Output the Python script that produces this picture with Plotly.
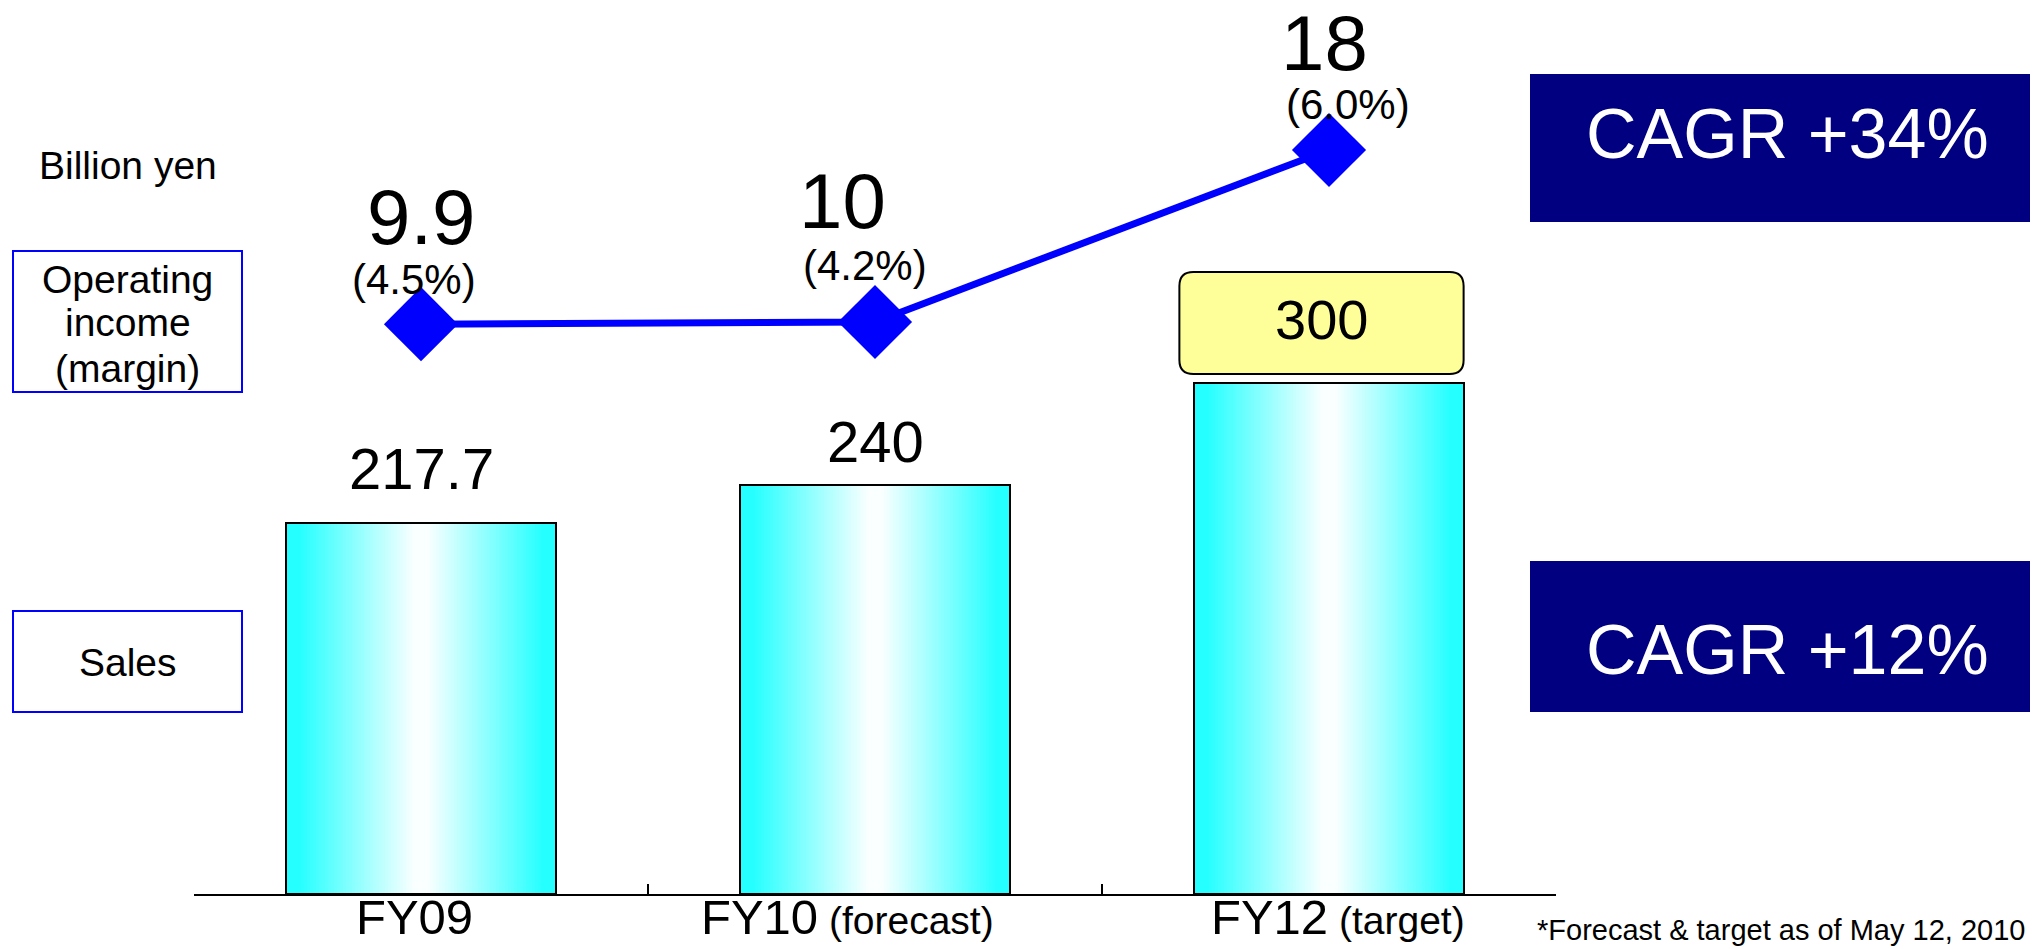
import plotly.graph_objects as go

# ---------------- data ----------------
categories = ["FY09", "FY10", "FY12"]
tick_main = ["FY09", "FY10", "FY12"]
tick_note = ["", "(forecast)", "(target)"]
sales = [217.7, 240, 300]
sales_labels = ["217.7", "240", "300"]
op_income = [9.9, 10, 18]
op_income_labels = ["9.9", "10", "18"]
op_margin_labels = ["(4.5%)", "(4.2%)", "(6.0%)"]
cagr_labels = ["CAGR +34%", "CAGR +12%"]
unit_label = "Billion yen"
series_labels = [["Operating", "income", "(margin)"], ["Sales"]]
footnote = "*Forecast & target as of May 12, 2010"

# ---------------- layout helpers ----------------
W, H = 2037, 949
PLOT_BOTTOM = 894          # pixel row of the x axis line
X0, X1 = 194, 1556         # pixel extent of the x axis
Y_PX_PER_UNIT = 1.7033     # sales axis scale
Y2_PX_PER_UNIT = 21.5      # operating income axis scale
Y2_ZERO_PX = 537

FONT = "Liberation Sans, Arial, sans-serif"
CYAN = (38, 255, 255)
WHITE = (250, 255, 255)
NAVY = "#000080"
BLUE = "#0000FF"


def pxx(x):
    return x / W


def pxy(y):
    return (PLOT_BOTTOM - y) / PLOT_BOTTOM


def grad(t):
    d = abs(t - 0.5) * 2
    s = min(max((d - 0.05) / 0.85, 0.0), 1.0)
    c = [round(WHITE[k] + (CYAN[k] - WHITE[k]) * s) for k in range(3)]
    return "rgb(%d,%d,%d)" % tuple(c)


fig = go.Figure()

# ---- gradient bars (vertical slices) ----
BAR_W = 0.593
N = 90
sw = BAR_W / N
for i in range(N):
    t = (i + 0.5) / N
    fig.add_trace(go.Bar(
        x=categories, y=sales,
        width=sw * 1.8 if i < N - 1 else sw,
        offset=-BAR_W / 2 + i * sw,
        marker=dict(color=grad(t), line=dict(width=0)),
        hoverinfo="skip", showlegend=False,
    ))
# outline
fig.add_trace(go.Bar(
    x=categories, y=sales, width=BAR_W,
    marker=dict(color="rgba(0,0,0,0)", line=dict(color="black", width=2)),
    hoverinfo="skip", showlegend=False,
))

# ---- operating income line ----
fig.add_trace(go.Scatter(
    x=categories, y=op_income, yaxis="y2", mode="lines+markers",
    line=dict(color=BLUE, width=7),
    marker=dict(symbol="diamond", size=57, color=BLUE),
    hoverinfo="skip", showlegend=False,
))

ann = []
shapes = []


def text(x, y, s, size, color="black", xanchor="center", xref="paper", yref="paper", **kw):
    ann.append(dict(x=x, y=y, xref=xref, yref=yref, text=s, showarrow=False,
                    xanchor=xanchor, yanchor="middle",
                    font=dict(family=FONT, size=size, color=color), **kw))


# sales labels
sales_shift = [55, 44, 0]
for i, (c, v, lab) in enumerate(zip(categories, sales, sales_labels)):
    if i < 2:
        text(c, v, lab, 58, xref="x", yref="y", yshift=sales_shift[i])
    else:
        # rounded yellow call-out box above target bar
        ci = categories.index(c)
        xl = ci - BAR_W / 2 - 15 / 454
        xr = ci + BAR_W / 2
        yb = v + 9 / Y_PX_PER_UNIT
        yt = v + 111 / Y_PX_PER_UNIT
        rx = 14 / 454
        ry = 14 / Y_PX_PER_UNIT
        path = (f"M {xl+rx},{yb} L {xr-rx},{yb} Q {xr},{yb} {xr},{yb+ry} "
                f"L {xr},{yt-ry} Q {xr},{yt} {xr-rx},{yt} L {xl+rx},{yt} "
                f"Q {xl},{yt} {xl},{yt-ry} L {xl},{yb+ry} Q {xl},{yb} {xl+rx},{yb} Z")
        shapes.append(dict(type="path", path=path, xref="x", yref="y",
                           fillcolor="#FFFF99", line=dict(color="black", width=2),
                           layer="above"))
        text(ci - 8 / 454, (yb + yt) / 2 + 4 / Y_PX_PER_UNIT, lab, 56, xref="x", yref="y")

# operating income labels
big_shift = [107, 121, 107]
pct_shift = [45, 57, 46]
big_xshift = [0, -33, -5]
pct_xshift = [-7, -10, 19]
for i, c in enumerate(categories):
    text(c, op_income[i], op_income_labels[i], 78, xref="x", yref="y2",
         yshift=big_shift[i], xshift=big_xshift[i])
    text(c, op_income[i], op_margin_labels[i], 42, xref="x", yref="y2",
         yshift=pct_shift[i], xshift=pct_xshift[i])

# category labels below the axis
cat_xshift = [-7, -28, 9]
for i, c in enumerate(categories):
    s = tick_main[i] if not tick_note[i] else \
        f"{tick_main[i]}<span style='font-size:39px'> {tick_note[i]}</span>"
    text(c, pxy(917), s, 49, xref="x", yref="paper", xshift=cat_xshift[i])

# unit label
text(pxx(128), pxy(165), unit_label, 39)

# series boxes on the left
boxes = [(13, 242, 251, 392), (13, 242, 611, 712)]
line_y = [[279, 322, 368], [662]]
for (x0, x1, y0, y1), lines, ys in zip(boxes, series_labels, line_y):
    shapes.append(dict(type="rect", xref="paper", yref="paper",
                       x0=pxx(x0), x1=pxx(x1), y0=pxy(y1), y1=pxy(y0),
                       line=dict(color=BLUE, width=2), fillcolor="rgba(0,0,0,0)",
                       layer="below"))
    for ln, yy in zip(lines, ys):
        text(pxx((x0 + x1) / 2), pxy(yy), ln, 39)

# CAGR boxes
cagr_boxes = [(1530, 2030, 74, 222, 134), (1530, 2030, 561, 712, 650)]
for (x0, x1, y0, y1, ty), lab in zip(cagr_boxes, cagr_labels):
    shapes.append(dict(type="rect", xref="paper", yref="paper",
                       x0=pxx(x0), x1=pxx(x1), y0=pxy(y1), y1=pxy(y0),
                       line=dict(width=0), fillcolor=NAVY, layer="below"))
    text(pxx(1787), pxy(ty), lab, 70, color="white")

# footnote
text(pxx(2027), pxy(930), footnote, 29, xanchor="right")

fig.update_layout(
    width=W, height=H,
    margin=dict(l=0, r=0, t=0, b=H - PLOT_BOTTOM, pad=0, autoexpand=False),
    paper_bgcolor="white", plot_bgcolor="rgba(0,0,0,0)",
    barmode="overlay", bargap=0,
    font=dict(family=FONT, color="black"),
    xaxis=dict(domain=[X0 / W, X1 / W], type="category", range=[-0.5, 2.5],
               tickmode="array", tickvals=categories, showticklabels=False,
               tickson="boundaries", ticks="inside", ticklen=10, tickwidth=2,
               tickcolor="black", showline=True, linecolor="black", linewidth=2,
               showgrid=False, zeroline=False, automargin=False),
    yaxis=dict(range=[0, PLOT_BOTTOM / Y_PX_PER_UNIT], visible=False, showgrid=False,
               automargin=False),
    yaxis2=dict(overlaying="y", range=[(Y2_ZERO_PX - PLOT_BOTTOM) / Y2_PX_PER_UNIT,
                                        Y2_ZERO_PX / Y2_PX_PER_UNIT],
                visible=False, showgrid=False, automargin=False),
    annotations=ann, shapes=shapes, showlegend=False,
)

fig.write_html("out.html")
